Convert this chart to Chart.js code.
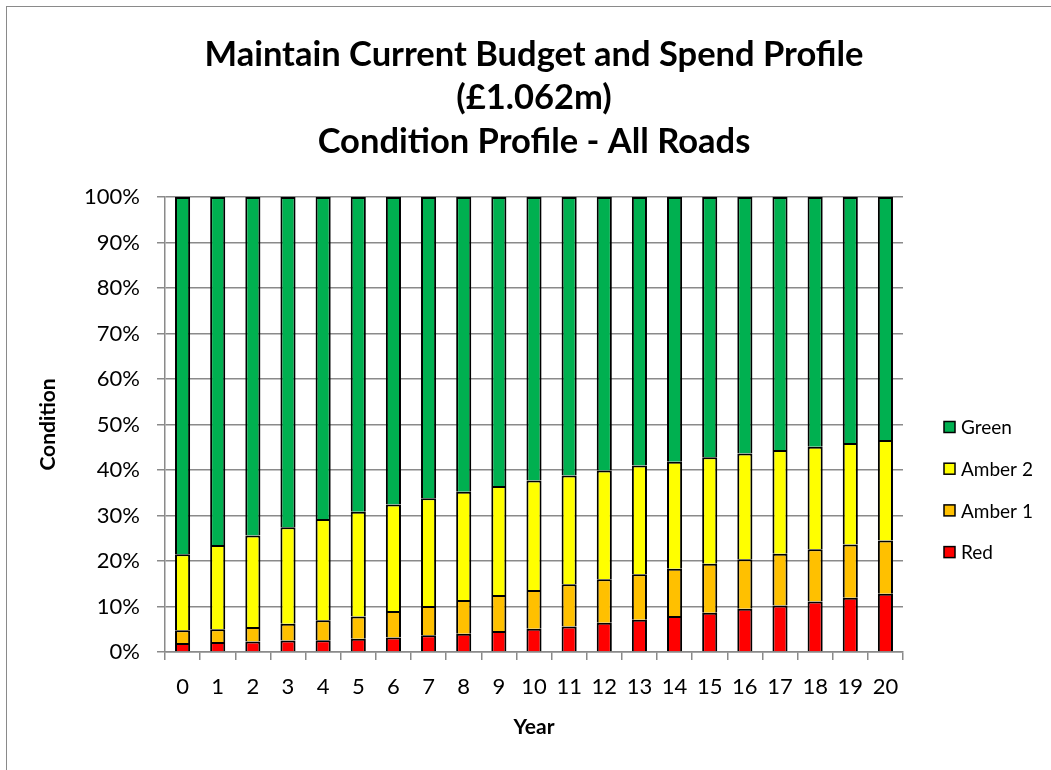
<!DOCTYPE html>
<html>
<head>
<meta charset="utf-8">
<script src="https://cdn.jsdelivr.net/npm/chart.js@4/dist/chart.umd.min.js"></script>
<style>
  body { margin: 0; background: #fff; overflow: hidden; }
  #wrap { position: relative; width: 1051px; height: 770px; }
  #frame { position: absolute; left: 6px; top: 6px; width: 1200px; height: 900px; border: 1px solid #8a8a8a; }
</style>
</head>
<body>
<div id="wrap">
  <div id="frame"></div>
  <canvas id="grafico"></canvas>
</div>
<script>
// Dados do grafico (percentagens por ano)
const anos = ['0','1','2','3','4','5','6','7','8','9','10','11','12','13','14','15','16','17','18','19','20'];
const red    = [2.0, 2.2, 2.3, 2.5, 2.6, 2.9, 3.2, 3.7, 4.0, 4.6, 5.1, 5.6, 6.4, 7.1, 7.9, 8.6, 9.5, 10.2, 11.1, 11.9, 12.8];
const amber1 = [2.8, 2.8, 3.2, 3.7, 4.4, 4.9, 5.8, 6.4, 7.4, 7.9, 8.5, 9.3, 9.6, 10.0, 10.4, 10.8, 10.9, 11.4, 11.5, 11.7, 11.7];
const amber2 = [16.7, 18.5, 20.1, 21.2, 22.2, 23.0, 23.4, 23.7, 23.8, 24.0, 24.1, 23.9, 23.9, 23.9, 23.5, 23.4, 23.2, 22.8, 22.5, 22.3, 22.1];
const green  = [78.5, 76.5, 74.4, 72.6, 70.8, 69.2, 67.6, 66.2, 64.8, 63.5, 62.3, 61.2, 60.1, 59.0, 58.2, 57.2, 56.4, 55.6, 54.9, 54.1, 53.4];
const titulo = ['Maintain Current Budget and Spend Profile', '(£1.062m)', 'Condition Profile - All Roads'];

Chart.defaults.font.family = 'Lato';
Chart.defaults.color = '#000';

// Legenda desenhada a mao, ao lado direito
const legendaDireita = {
  id: 'legendaDireita',
  afterDraw(chart) {
    const ctx = chart.ctx;
    const itens = chart.data.datasets.slice().reverse();
    ctx.save();
    ctx.font = '19px Lato';
    ctx.textBaseline = 'middle';
    itens.forEach((ds, i) => {
      const y = 427 + i * 41.7;
      ctx.fillStyle = ds.backgroundColor;
      ctx.fillRect(944, y - 5.5, 11, 11);
      ctx.strokeStyle = '#000';
      ctx.lineWidth = 1.5;
      ctx.strokeRect(944, y - 5.5, 11, 11);
      ctx.fillStyle = '#000';
      ctx.fillText(ds.label, 961, y + 1);
    });
    ctx.restore();
  }
};

const barra = { borderColor: '#000', borderWidth: 2, barPercentage: 0.43, categoryPercentage: 1 };

new Chart(document.getElementById('grafico'), {
  type: 'bar',
  data: {
    labels: anos,
    datasets: [
      { label: 'Red', data: red, backgroundColor: '#FF0000', ...barra },
      { label: 'Amber 1', data: amber1, backgroundColor: '#FFC000', ...barra },
      { label: 'Amber 2', data: amber2, backgroundColor: '#FFFF00', ...barra },
      { label: 'Green', data: green, backgroundColor: '#00B050', ...barra }
    ]
  },
  options: {
    responsive: true,
    maintainAspectRatio: false,
    animation: false,
    layout: { padding: { left: 0, right: 148, top: 0, bottom: 0 } },
    plugins: {
      legend: { display: false },
      tooltip: { enabled: false },
      title: {
        display: true,
        fullSize: false, // centra o titulo sobre a area do grafico
        text: titulo,
        color: '#000',
        font: { size: 34.5, weight: 'bold', lineHeight: 1.26 },
        padding: { top: 33, bottom: 33.5 }
      }
    },
    scales: {
      x: {
        stacked: true,
        afterFit: s => { s.height = 118; },
        grid: { drawOnChartArea: false, drawTicks: true, tickLength: 8, color: '#8a8a8a', lineWidth: 1.5 },
        border: { color: '#8a8a8a', width: 1.5 },
        ticks: { font: { size: 22 }, padding: 14, color: '#000' },
        title: { display: true, text: 'Year', font: { size: 21, weight: 'bold' }, padding: { top: 0, bottom: 30.5 } }
      },
      y: {
        stacked: true,
        min: 0,
        max: 100,
        afterFit: s => { s.width = 165; },
        grid: { color: '#8a8a8a', lineWidth: 1.5, tickLength: 8 },
        border: { color: '#8a8a8a', width: 1.5 },
        ticks: { stepSize: 10, font: { size: 22 }, padding: 17, color: '#000', callback: v => v + '%' },
        title: { display: true, text: 'Condition', font: { size: 21, weight: 'bold' }, padding: { top: 35.5, bottom: 0 } }
      }
    }
  },
  plugins: [legendaDireita]
});
</script>
</body>
</html>
